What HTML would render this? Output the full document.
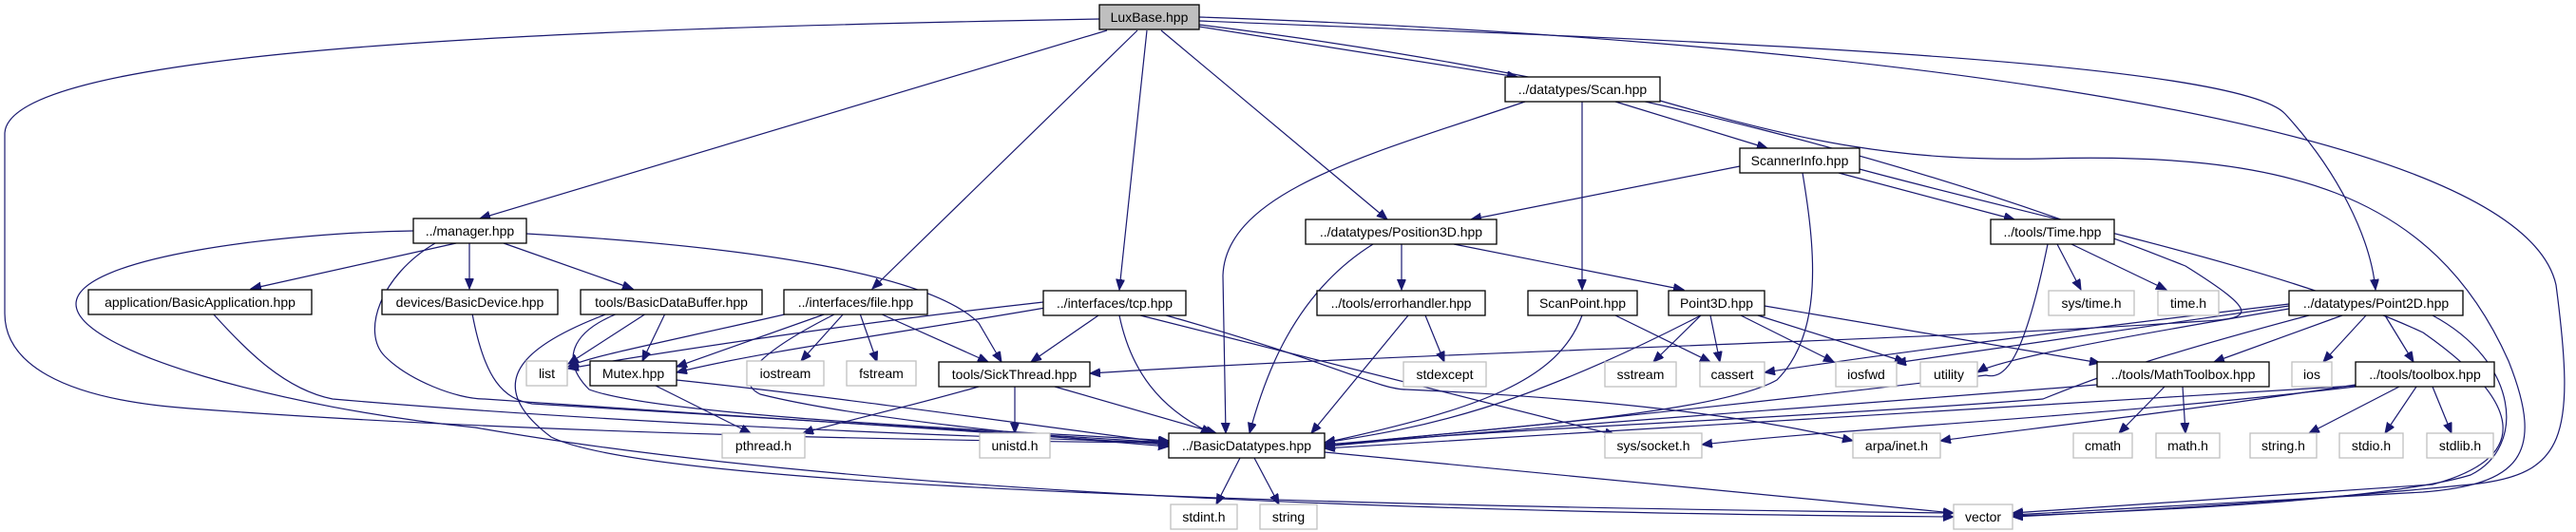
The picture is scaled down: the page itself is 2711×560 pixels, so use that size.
<!DOCTYPE html>
<html><head><meta charset="utf-8"><style>
html,body{margin:0;padding:0;background:#fff;}
svg{display:block;}
text{font-family:"Liberation Sans",sans-serif;font-size:14px;fill:#000;text-anchor:middle;}
.n{fill:#fff;stroke:#000;stroke-width:1.3;}
.g{fill:#fff;stroke:#bfbfbf;stroke-width:1.3;}
.e{fill:none;stroke:#191970;stroke-width:1.2;marker-end:url(#a);}
</style></head><body>
<svg width="2711" height="560" viewBox="0 0 2711 560" xmlns="http://www.w3.org/2000/svg">
<defs><marker id="a" markerUnits="userSpaceOnUse" markerWidth="12" markerHeight="10" refX="11" refY="4.5" orient="auto"><path d="M0,0 L11,4.5 L0,9 z" fill="#191970" stroke="#191970"/></marker></defs>
<g>
<path class="e" d="M1165,32 L505,230"/>
<path class="e" d="M1197,32 L918,304"/>
<path class="e" d="M1207,32 L1178,305"/>
<path class="e" d="M1222,32 L1460,231"/>
<path class="e" d="M1262,28 L1597,81"/>
<path class="e" d="M1262,22 C1700,40 2350,60 2405,120 C2460,180 2495,250 2500,305"/>
<path class="e" d="M1262,18 C1900,40 2650,120 2690,300 C2711,460 2700,500 2600,510 C2400,530 2200,540 2118,544"/>
<path class="e" d="M1157,20 C600,30 10,50 5,140 L5,330 C5,380 60,420 200,430 C600,460 1100,465 1230,466"/>
<path class="e" d="M1262,26 C1700,80 2050,180 2300,280 C2380,330 2370,335 2320,338 C2000,360 1500,370 1147,393"/>
<path class="e" d="M1605,107 C1450,160 1290,200 1287,290 L1290,456"/>
<path class="e" d="M1665,107 L1665,305"/>
<path class="e" d="M1700,107 L1860,156"/>
<path class="e" d="M1740,104 C1900,150 2000,170 2150,167 C2400,160 2560,200 2640,380 C2680,480 2650,510 2550,518 L2118,542"/>
<path class="e" d="M1831,175 L1548,231"/>
<path class="e" d="M1935,182 L2120,231"/>
<path class="e" d="M1897,182 C1910,260 1920,350 1870,400 C1800,440 1500,455 1394,470"/>
<path class="e" d="M1957,178 C2150,230 2400,280 2550,350 C2650,420 2670,480 2560,510 L2118,540"/>
<path class="e" d="M1475,257 L1475,305"/>
<path class="e" d="M1530,257 L1772,305"/>
<path class="e" d="M1445,257 C1360,310 1330,400 1315,456"/>
<path class="e" d="M2165,257 L2190,305"/>
<path class="e" d="M2180,257 L2280,305"/>
<path class="e" d="M2155,257 C2130,380 2110,400 2090,395 C1800,430 1500,460 1394,468"/>
<path class="e" d="M480,256 L264,304"/>
<path class="e" d="M494,256 L494,304"/>
<path class="e" d="M530,256 L666,304"/>
<path class="e" d="M554,246 C800,260 980,290 1030,340 L1054,381"/>
<path class="e" d="M458,256 C400,290 380,350 405,375 C430,400 480,420 510,420 C800,440 1100,460 1230,468"/>
<path class="e" d="M435,243 C300,245 80,270 80,320 C80,370 300,430 500,450 C900,520 1500,540 2056,544"/>
<path class="e" d="M224,330 C260,370 300,410 350,420 C700,450 1100,462 1230,466"/>
<path class="e" d="M497,330 C510,400 530,420 560,425 L1230,466"/>
<path class="e" d="M680,330 L598,383"/>
<path class="e" d="M700,330 L676,380"/>
<path class="e" d="M650,330 C600,350 590,380 620,410 C700,440 1100,455 1230,464"/>
<path class="e" d="M640,330 C560,360 500,400 580,460 C700,520 1600,535 2056,540"/>
<path class="e" d="M830,330 C700,360 620,375 598,386"/>
<path class="e" d="M870,330 L712,386"/>
<path class="e" d="M888,330 L843,380"/>
<path class="e" d="M905,330 L923,381"/>
<path class="e" d="M926,330 L1040,381"/>
<path class="e" d="M880,330 C800,370 770,400 800,415 C900,440 1100,460 1230,470"/>
<path class="e" d="M1098,318 C900,340 700,370 598,388"/>
<path class="e" d="M1100,324 C950,350 800,370 712,392"/>
<path class="e" d="M1156,332 L1085,381"/>
<path class="e" d="M1178,332 C1190,390 1220,430 1275,456"/>
<path class="e" d="M1200,332 L1700,458"/>
<path class="e" d="M1220,330 C1400,380 1450,410 1480,410 C1700,420 1850,440 1950,464"/>
<path class="e" d="M1500,332 L1520,381"/>
<path class="e" d="M1482,332 L1380,456"/>
<path class="e" d="M1665,332 C1640,400 1560,430 1394,466"/>
<path class="e" d="M1700,332 L1800,381"/>
<path class="e" d="M1790,332 L1740,381"/>
<path class="e" d="M1800,332 L1810,381"/>
<path class="e" d="M1832,332 L1930,381"/>
<path class="e" d="M1850,332 L2005,381"/>
<path class="e" d="M1857,322 L2210,382"/>
<path class="e" d="M1790,332 C1600,430 1500,450 1394,466"/>
<path class="e" d="M2409,320 C2200,345 2000,370 1857,392"/>
<path class="e" d="M2409,322 L1995,382"/>
<path class="e" d="M2409,325 C2200,360 2100,380 2081,392"/>
<path class="e" d="M2430,332 C2250,380 2200,400 2150,420 C1900,440 1500,455 1394,470"/>
<path class="e" d="M2465,332 L2330,381"/>
<path class="e" d="M2490,332 L2445,381"/>
<path class="e" d="M2510,332 L2540,381"/>
<path class="e" d="M2560,332 C2650,380 2660,470 2600,500 C2500,530 2200,540 2118,543"/>
<path class="e" d="M690,406 L790,456"/>
<path class="e" d="M712,400 C900,420 1100,450 1230,466"/>
<path class="e" d="M1030,407 C950,430 880,445 845,456"/>
<path class="e" d="M1068,407 L1068,456"/>
<path class="e" d="M1110,407 L1280,456"/>
<path class="e" d="M2278,407 L2230,456"/>
<path class="e" d="M2297,407 L2300,456"/>
<path class="e" d="M2207,405 C1900,430 1600,450 1394,470"/>
<path class="e" d="M2525,407 L2430,456"/>
<path class="e" d="M2543,407 L2510,456"/>
<path class="e" d="M2560,407 L2580,456"/>
<path class="e" d="M2479,406 C2100,430 1700,450 1394,472"/>
<path class="e" d="M2479,407 C2200,440 1950,450 1791,468"/>
<path class="e" d="M2479,405 C2250,440 2100,455 2042,464"/>
<path class="e" d="M1305,482 L1280,531"/>
<path class="e" d="M1320,482 L1346,531"/>
<path class="e" d="M1394,476 L2056,540"/>
</g>
<g>
<rect x="1157" y="5" width="105" height="26" fill="#bfbfbf" stroke="#000" stroke-width="1.3"/><text x="1209.5" y="23">LuxBase.hpp</text>
<rect class="n" x="1584" y="81" width="163" height="26"/><text x="1665.5" y="99">../datatypes/Scan.hpp</text>
<rect class="n" x="1831" y="156" width="126" height="26"/><text x="1894" y="174">ScannerInfo.hpp</text>
<rect class="n" x="1374" y="231" width="201" height="26"/><text x="1474.5" y="249">../datatypes/Position3D.hpp</text>
<rect class="n" x="2095" y="231" width="130" height="26"/><text x="2160" y="249">../tools/Time.hpp</text>
<rect class="n" x="435" y="230" width="119" height="26"/><text x="494.5" y="248">../manager.hpp</text>
<rect class="n" x="93" y="305" width="235" height="26"/><text x="210.5" y="323">application/BasicApplication.hpp</text>
<rect class="n" x="402" y="305" width="185" height="26"/><text x="494.5" y="323">devices/BasicDevice.hpp</text>
<rect class="n" x="611" y="305" width="191" height="26"/><text x="706.5" y="323">tools/BasicDataBuffer.hpp</text>
<rect class="n" x="825" y="305" width="151" height="26"/><text x="900.5" y="323">../interfaces/file.hpp</text>
<rect class="n" x="1098" y="306" width="150" height="26"/><text x="1173" y="324">../interfaces/tcp.hpp</text>
<rect class="n" x="1386" y="306" width="177" height="26"/><text x="1474.5" y="324">../tools/errorhandler.hpp</text>
<rect class="n" x="1608" y="306" width="115" height="26"/><text x="1665.5" y="324">ScanPoint.hpp</text>
<rect class="n" x="1756" y="306" width="101" height="26"/><text x="1806.5" y="324">Point3D.hpp</text>
<rect class="g" x="2156" y="306" width="90" height="26"/><text x="2201" y="324">sys/time.h</text>
<rect class="g" x="2271" y="306" width="64" height="26"/><text x="2303" y="324">time.h</text>
<rect class="n" x="2409" y="306" width="183" height="26"/><text x="2500.5" y="324">../datatypes/Point2D.hpp</text>
<rect class="g" x="554" y="380" width="43" height="26"/><text x="575.5" y="398">list</text>
<rect class="n" x="621" y="380" width="91" height="26"/><text x="666.5" y="398">Mutex.hpp</text>
<rect class="g" x="786" y="380" width="81" height="26"/><text x="826.5" y="398">iostream</text>
<rect class="g" x="891" y="380" width="73" height="26"/><text x="927.5" y="398">fstream</text>
<rect class="n" x="988" y="381" width="159" height="26"/><text x="1067.5" y="399">tools/SickThread.hpp</text>
<rect class="g" x="1477" y="381" width="87" height="26"/><text x="1520.5" y="399">stdexcept</text>
<rect class="g" x="1689" y="381" width="75" height="26"/><text x="1726.5" y="399">sstream</text>
<rect class="g" x="1789" y="381" width="68" height="26"/><text x="1823" y="399">cassert</text>
<rect class="g" x="1932" y="381" width="64" height="26"/><text x="1964" y="399">iosfwd</text>
<rect class="g" x="2021" y="381" width="60" height="26"/><text x="2051" y="399">utility</text>
<rect class="n" x="2207" y="381" width="181" height="26"/><text x="2297.5" y="399">../tools/MathToolbox.hpp</text>
<rect class="g" x="2412" y="381" width="42" height="26"/><text x="2433" y="399">ios</text>
<rect class="n" x="2479" y="381" width="146" height="26"/><text x="2552" y="399">../tools/toolbox.hpp</text>
<rect class="g" x="760" y="456" width="87" height="26"/><text x="803.5" y="474">pthread.h</text>
<rect class="g" x="1031" y="456" width="74" height="26"/><text x="1068" y="474">unistd.h</text>
<rect class="n" x="1230" y="456" width="164" height="26"/><text x="1312" y="474">../BasicDatatypes.hpp</text>
<rect class="g" x="1689" y="456" width="102" height="26"/><text x="1740" y="474">sys/socket.h</text>
<rect class="g" x="1950" y="456" width="92" height="26"/><text x="1996" y="474">arpa/inet.h</text>
<rect class="g" x="2182" y="456" width="62" height="26"/><text x="2213" y="474">cmath</text>
<rect class="g" x="2269" y="456" width="67" height="26"/><text x="2302.5" y="474">math.h</text>
<rect class="g" x="2368" y="456" width="70" height="26"/><text x="2403" y="474">string.h</text>
<rect class="g" x="2462" y="456" width="67" height="26"/><text x="2495.5" y="474">stdio.h</text>
<rect class="g" x="2554" y="456" width="70" height="26"/><text x="2589" y="474">stdlib.h</text>
<rect class="g" x="1232" y="531" width="70" height="26"/><text x="1267" y="549">stdint.h</text>
<rect class="g" x="1326" y="531" width="60" height="26"/><text x="1356" y="549">string</text>
<rect class="g" x="2056" y="531" width="62" height="26"/><text x="2087" y="549">vector</text>
</g>
</svg>
</body></html>
